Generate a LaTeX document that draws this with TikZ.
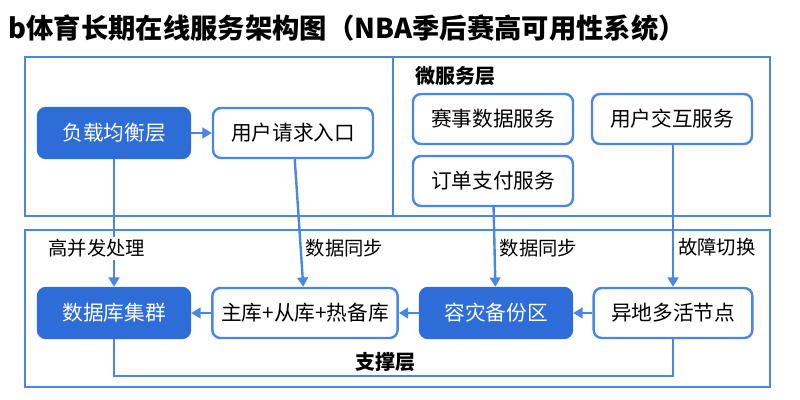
\documentclass[tikz,border=0pt]{standalone}
\usepackage{fontspec}
\setmainfont{Noto Sans CJK SC}
\usetikzlibrary{arrows.meta}
\definecolor{mainblue}{RGB}{46,108,216}
\definecolor{lineblue}{RGB}{74,134,228}
\tikzset{every picture/.style={line width=0.75pt}}
\tikzset{
  box/.style={draw=lineblue, line width=1.8pt, rounded corners=6pt, fill=white, minimum height=37.5pt, font=\fontsize{15.5}{17}\selectfont},
  solid box/.style={box, draw=mainblue, fill=mainblue, text=white},
  layer/.style={draw=lineblue, line width=2.2pt},
  link/.style={draw=lineblue, line width=1.8pt},
  flow/.style={link, -{Triangle[length=7pt,width=8pt]}},
  tag/.style={fill=white, inner sep=2pt, font=\fontsize{14.5}{16}\selectfont},
  head/.style={font=\bfseries\fontsize{15}{17}\selectfont}
}

\begin{document}
\begin{tikzpicture}[x=0.75pt,y=0.75pt,yscale=-1,xscale=1]
\useasboundingbox (0,0) rectangle (800,400);

% Title
\node [anchor=west, inner sep=0pt, font=\bfseries\fontsize{20.5}{23}\selectfont] (title) at (8,28) {b体育长期在线服务架构图（NBA季后赛高可用性系统）};

% Layers
\draw [layer] (25,57) rectangle (770,216);
\draw [layer] (393,57) -- (393,216);
\draw [layer] (25,230) rectangle (770,387);
\node [head] (micro) at (455,76) {微服务层};
\node [head] (support) at (385,362) {支撑层};

% Upper nodes
\node [solid box, minimum width=114pt] (lb) at (114,133) {负载均衡层};
\node [box, minimum width=120pt] (entry) at (293,133) {用户请求入口};
\node [box, minimum width=120pt] (match) at (493,119) {赛事数据服务};
\node [box, minimum width=120pt] (inter) at (672,119) {用户交互服务};
\node [box, minimum width=120pt] (order) at (493,181) {订单支付服务};

% Lower nodes
\node [solid box, minimum width=114pt] (db) at (114,313) {数据库集群};
\node [box, minimum width=139pt] (repl) at (305,313) {主库+从库+热备库};
\node [solid box, minimum width=114pt] (dr) at (496,313) {容灾备份区};
\node [box, minimum width=119pt] (multi) at (673,313) {异地多活节点};

% Connectors
\draw [flow] (lb) -- node [tag, pos=0.70, xshift=-13pt] {高并发处理} (db);
\draw [flow] (lb) -- (entry);
\draw [flow] (entry) -- node [tag, pos=0.70, anchor=west, xshift=1pt, fill=none] {数据同步} (repl);
\draw [flow] (order) -- node [tag, pos=0.52, anchor=west, xshift=1pt, fill=none] {数据同步} (dr);
\draw [flow] (inter.south -| multi) -- node [tag, pos=0.72, anchor=west, xshift=1pt, fill=none] {故障切换} (multi);
\draw [flow] (multi) -- (dr);
\draw [flow] (dr) -- (repl);
\draw [flow] (repl) -- (db);
\draw [link] (db.south) -- ++(0,37) -| (multi.south);

\end{tikzpicture}
\end{document}
